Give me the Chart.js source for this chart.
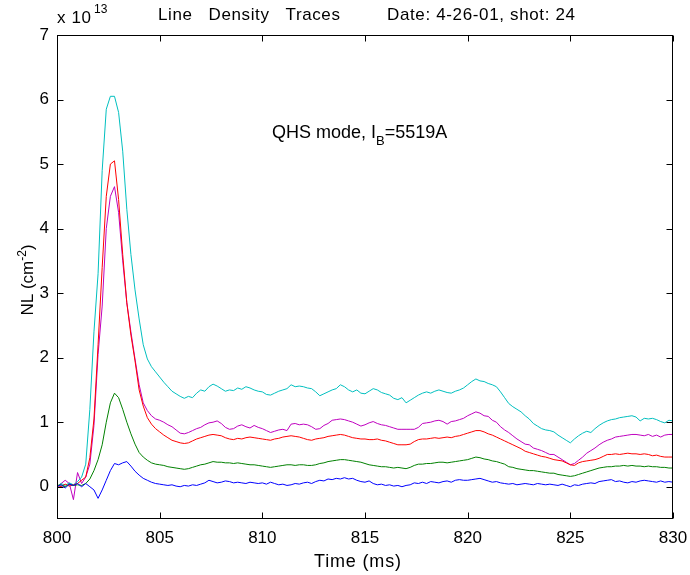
<!DOCTYPE html>
<html>
<head>
<meta charset="utf-8">
<script src="https://cdn.jsdelivr.net/npm/chart.js@4.4.1/dist/chart.umd.min.js"></script>
<style>
  html, body { margin: 0; padding: 0; background: #fff; }
  #wrap { width: 690px; height: 575px; }
</style>
</head>
<body>
<div id="wrap"><canvas id="chart" width="690" height="575"></canvas></div>
<script>
// sampling of the traces (ms)
const startTime = 800;
const sampleStep = 0.2;

// line density, units of 1e13 cm^-2, one row per ms
const blueTrace = [
  0.00, 0.03, -0.02, 0.04, 0.02,
  0.05, 0.00, 0.05, 0.00, -0.05,
  -0.18, -0.05, 0.10, 0.25, 0.36,
  0.34, 0.37, 0.39, 0.32, 0.24,
  0.18, 0.13, 0.10, 0.07, 0.05,
  0.04, 0.03, 0.02, 0.03, 0.01,
  0.00, 0.02, 0.01, 0.03, 0.02,
  0.04, 0.06, 0.10, 0.08, 0.06,
  0.07, 0.09, 0.08, 0.06, 0.07,
  0.06, 0.05, 0.07, 0.06, 0.05,
  0.06, 0.04, 0.07, 0.05, 0.03,
  0.04, 0.02, 0.03, 0.05, 0.04,
  0.06, 0.07, 0.05, 0.08, 0.10,
  0.09, 0.12, 0.11, 0.13, 0.12,
  0.14, 0.12, 0.13, 0.10, 0.08,
  0.07, 0.09, 0.05, 0.03, 0.04,
  0.02, 0.03, 0.01, 0.02, 0.00,
  0.02, 0.03, 0.06, 0.05, 0.07,
  0.05, 0.08, 0.07, 0.06, 0.08,
  0.09, 0.07, 0.10, 0.11, 0.10,
  0.10, 0.11, 0.12, 0.13, 0.11,
  0.09, 0.07, 0.08, 0.06, 0.05,
  0.04, 0.05, 0.03, 0.04, 0.05,
  0.04, 0.03, 0.05, 0.04, 0.03,
  0.04, 0.03, 0.02, 0.04, 0.02,
  0.00, 0.03, 0.02, 0.04, 0.05,
  0.06, 0.05, 0.08, 0.09, 0.10,
  0.11, 0.08, 0.09, 0.07, 0.06,
  0.08, 0.07, 0.09, 0.10, 0.09,
  0.08, 0.07, 0.09, 0.07, 0.08,
  0.07
];

const greenTrace = [
  0.02, 0.03, 0.00, 0.04, 0.02,
  0.03, 0.02, 0.05, 0.12, 0.25,
  0.42, 0.65, 1.00, 1.30, 1.45,
  1.38, 1.20, 1.00, 0.82, 0.66,
  0.53, 0.46, 0.41, 0.37, 0.35,
  0.34, 0.33, 0.31, 0.30, 0.29,
  0.28, 0.27, 0.28, 0.30, 0.32,
  0.34, 0.35, 0.37, 0.39, 0.38,
  0.38, 0.37, 0.37, 0.36, 0.37,
  0.36, 0.35, 0.34, 0.34, 0.33,
  0.32, 0.31, 0.30, 0.31, 0.32,
  0.33, 0.34, 0.34, 0.33, 0.34,
  0.34, 0.33, 0.33, 0.34, 0.36,
  0.37, 0.39, 0.40, 0.41, 0.42,
  0.42, 0.41, 0.40, 0.39, 0.38,
  0.36, 0.34, 0.33, 0.32, 0.31,
  0.31, 0.30, 0.29, 0.30, 0.29,
  0.28, 0.30, 0.33, 0.35, 0.35,
  0.36, 0.36, 0.37, 0.38, 0.38,
  0.37, 0.38, 0.39, 0.40, 0.41,
  0.42, 0.44, 0.46, 0.45, 0.43,
  0.42, 0.40, 0.39, 0.37, 0.35,
  0.31, 0.30, 0.28, 0.27, 0.26,
  0.25, 0.25, 0.24, 0.23, 0.22,
  0.21, 0.21, 0.19, 0.18, 0.17,
  0.16, 0.17, 0.19, 0.21, 0.23,
  0.25, 0.27, 0.29, 0.30, 0.31,
  0.31, 0.32, 0.32, 0.33, 0.32,
  0.33, 0.32, 0.32, 0.31, 0.32,
  0.31, 0.31, 0.30, 0.30, 0.29,
  0.29
];

const redTrace = [
  0.02, 0.00, 0.04, 0.01, 0.03,
  0.05, 0.10, 0.15, 0.45, 1.05,
  2.20, 3.40, 4.50, 5.00, 5.05,
  4.45, 3.60, 2.85, 2.35, 1.95,
  1.50, 1.25, 1.07, 0.97, 0.90,
  0.85, 0.80, 0.76, 0.72, 0.70,
  0.68, 0.67, 0.68, 0.71, 0.74,
  0.76, 0.78, 0.80, 0.81, 0.80,
  0.79, 0.76, 0.74, 0.73, 0.75,
  0.74, 0.76, 0.77, 0.76, 0.75,
  0.74, 0.73, 0.72, 0.74, 0.75,
  0.77, 0.78, 0.79, 0.78, 0.77,
  0.75, 0.73, 0.72, 0.74, 0.75,
  0.76, 0.78, 0.79, 0.80, 0.81,
  0.80, 0.78, 0.76, 0.75, 0.74,
  0.74, 0.73, 0.73, 0.74, 0.72,
  0.71, 0.69, 0.67, 0.65, 0.65,
  0.65, 0.66, 0.70, 0.73, 0.74,
  0.74, 0.75, 0.76, 0.75, 0.76,
  0.77, 0.76, 0.78, 0.79, 0.81,
  0.83, 0.85, 0.87, 0.87, 0.85,
  0.82, 0.80, 0.77, 0.74, 0.71,
  0.68, 0.65, 0.62, 0.59, 0.55,
  0.53, 0.51, 0.49, 0.47, 0.46,
  0.44, 0.42, 0.41, 0.40, 0.37,
  0.34, 0.33, 0.37, 0.39, 0.40,
  0.41, 0.42, 0.44, 0.47, 0.50,
  0.50, 0.51, 0.50, 0.51, 0.52,
  0.51, 0.51, 0.50, 0.51, 0.50,
  0.48, 0.49, 0.47, 0.46, 0.46,
  0.46
];

const cyanTrace = [
  0.00, 0.05, 0.02, 0.06, 0.03,
  0.08, 0.15, 0.35, 1.20, 2.40,
  3.30, 4.90, 5.85, 6.05, 6.05,
  5.80, 5.20, 4.30, 3.60, 3.05,
  2.60, 2.20, 1.98, 1.86, 1.78,
  1.70, 1.62, 1.55, 1.48, 1.44,
  1.40, 1.37, 1.40, 1.38, 1.45,
  1.50, 1.48, 1.55, 1.59, 1.56,
  1.52, 1.48, 1.50, 1.49, 1.53,
  1.51, 1.55, 1.53, 1.50, 1.48,
  1.47, 1.43, 1.42, 1.45, 1.48,
  1.50, 1.52, 1.58, 1.55, 1.56,
  1.55, 1.53, 1.52, 1.47, 1.41,
  1.44, 1.47, 1.50, 1.52, 1.58,
  1.55, 1.50, 1.47, 1.50, 1.45,
  1.44, 1.48, 1.52, 1.50, 1.46,
  1.44, 1.42, 1.37, 1.35, 1.38,
  1.30, 1.34, 1.38, 1.42, 1.45,
  1.47, 1.45, 1.48, 1.50, 1.48,
  1.46, 1.45, 1.48, 1.50, 1.53,
  1.58, 1.63, 1.67, 1.64, 1.63,
  1.60, 1.58, 1.55, 1.47, 1.38,
  1.29, 1.24, 1.20, 1.16, 1.10,
  1.05, 0.98, 0.94, 0.90, 0.88,
  0.87, 0.85, 0.80, 0.76, 0.72,
  0.68, 0.74, 0.79, 0.83, 0.86,
  0.84, 0.90, 0.95, 0.99, 1.02,
  1.04, 1.05, 1.07, 1.08, 1.09,
  1.10, 1.08, 1.02, 1.06, 1.05,
  1.06, 1.04, 1.01, 0.99, 1.03,
  1.02
];

const magentaTrace = [
  0.00, 0.05, 0.10, 0.05, -0.20,
  0.22, 0.05, 0.15, 0.35, 0.95,
  2.05, 2.80, 4.00, 4.50, 4.65,
  4.25, 3.50, 2.85, 2.40, 1.98,
  1.58, 1.30, 1.18, 1.10, 1.05,
  1.03, 1.00, 0.96, 0.93, 0.88,
  0.83, 0.82, 0.84, 0.87, 0.90,
  0.92, 0.96, 0.99, 1.00, 1.02,
  0.98, 0.92, 0.89, 0.90, 0.94,
  0.96, 0.93, 0.91, 0.95, 0.92,
  0.90, 0.87, 0.84, 0.86, 0.88,
  0.89, 0.87, 0.97, 0.98, 0.96,
  0.97, 0.96, 0.93, 0.89, 0.90,
  0.95, 0.98, 1.03, 1.04, 1.05,
  1.04, 1.02, 1.00, 0.97, 0.94,
  0.96, 0.99, 1.01, 0.98, 0.96,
  0.95, 0.93, 0.91, 0.89, 0.89,
  0.89, 0.89, 0.89, 0.92, 0.98,
  0.99, 1.00, 1.02, 1.03, 1.01,
  0.97, 1.01, 1.02, 1.04, 1.06,
  1.10, 1.13, 1.16, 1.14, 1.10,
  1.09, 1.03, 1.00, 0.93, 0.88,
  0.84, 0.79, 0.74, 0.70, 0.66,
  0.65, 0.60, 0.58, 0.56, 0.53,
  0.50, 0.50, 0.46, 0.42, 0.38,
  0.34, 0.36, 0.41, 0.46, 0.52,
  0.56, 0.60, 0.65, 0.69, 0.72,
  0.74, 0.77, 0.78, 0.79, 0.80,
  0.81, 0.81, 0.80, 0.79, 0.81,
  0.78, 0.80, 0.77, 0.80, 0.81,
  0.81
];

const xTickValues = [800, 805, 810, 815, 820, 825, 830];
const yTickValues = [0, 1, 2, 3, 4, 5, 6, 7];

const FONT = '"Liberation Sans", Arial, Helvetica, sans-serif';

function toPoints(values) {
  return values.map((v, i) => ({ x: +(startTime + i * sampleStep).toFixed(1), y: v }));
}

function trace(values, color) {
  return {
    data: toPoints(values),
    borderColor: color,
    borderWidth: 1,
    pointRadius: 0,
    tension: 0,
    fill: false
  };
}

// draw text spread to a given width (MATLAB text renders a bit wider)
function fitText(ctx, text, x, y, width) {
  ctx.letterSpacing = '0px';
  const w = ctx.measureText(text).width;
  const extra = (width - w) / Math.max(text.length - 1, 1);
  ctx.letterSpacing = extra.toFixed(2) + 'px';
  ctx.fillText(text, x, y);
  ctx.letterSpacing = '0px';
}

// frame, inward ticks and the MATLAB-style texts
const matlabFrame = {
  id: 'matlabFrame',
  afterDraw(chart) {
    const ctx = chart.ctx;
    const a = chart.chartArea;
    const xs = chart.scales.x, ys = chart.scales.y;
    const L = Math.round(a.left) + 0.5, R = Math.round(a.right) - 0.5;
    const T = Math.round(a.top) + 0.5, B = Math.round(a.bottom) - 0.5;
    const tick = 6;

    ctx.save();
    ctx.strokeStyle = '#000';
    ctx.lineWidth = 1;
    ctx.strokeRect(L, T, R - L, B - T);
    ctx.beginPath();
    xTickValues.forEach(v => {
      const px = Math.round(xs.getPixelForValue(v)) + 0.5;
      ctx.moveTo(px, B); ctx.lineTo(px, B - tick);
      ctx.moveTo(px, T); ctx.lineTo(px, T + tick);
    });
    yTickValues.forEach(v => {
      const py = Math.round(ys.getPixelForValue(v)) + 0.5;
      ctx.moveTo(L, py); ctx.lineTo(L + tick, py);
      ctx.moveTo(R, py); ctx.lineTo(R - tick, py);
    });
    ctx.stroke();

    ctx.fillStyle = '#000';
    ctx.textBaseline = 'alphabetic';
    ctx.textAlign = 'left';

    // title
    ctx.font = '17px ' + FONT;
    fitText(ctx, 'Line   Density   Traces', 158, 20, 182);
    fitText(ctx, 'Date: 4-26-01, shot: 24', 387, 20, 188);

    // exponent
    ctx.font = '17px ' + FONT;
    fitText(ctx, 'x 10', 57, 23, 34);
    ctx.font = '12px ' + FONT;
    ctx.fillText('13', 94, 13);

    // x label
    ctx.font = '18px ' + FONT;
    fitText(ctx, 'Time (ms)', 314, 567, 87);

    // y label (rotated)
    ctx.save();
    ctx.translate(33, 280);
    ctx.rotate(-Math.PI / 2);
    ctx.font = '17px ' + FONT;
    const main = 'NL (cm', sup = '-2', close = ')';
    const w1 = ctx.measureText(main).width;
    ctx.font = '12px ' + FONT;
    const w2 = ctx.measureText(sup).width;
    ctx.font = '17px ' + FONT;
    const w3 = ctx.measureText(close).width;
    const x0 = -(w1 + w2 + w3) / 2;
    ctx.fillText(main, x0, 0);
    ctx.font = '12px ' + FONT;
    ctx.fillText(sup, x0 + w1, -7);
    ctx.font = '17px ' + FONT;
    ctx.fillText(close, x0 + w1 + w2, 0);
    ctx.restore();

    // annotation
    ctx.font = '18px ' + FONT;
    const a1 = 'QHS mode, I';
    ctx.fillText(a1, 272, 138);
    const aw = ctx.measureText(a1).width;
    ctx.font = '13px ' + FONT;
    ctx.fillText('B', 272 + aw, 145);
    const bw = ctx.measureText('B').width;
    ctx.font = '18px ' + FONT;
    ctx.fillText('=5519A', 272 + aw + bw, 138);

    ctx.restore();
  }
};

new Chart(document.getElementById('chart'), {
  type: 'line',
  data: {
    datasets: [
      trace(blueTrace, 'rgb(0,0,255)'),
      trace(greenTrace, 'rgb(0,128,0)'),
      trace(redTrace, 'rgb(255,0,0)'),
      trace(cyanTrace, 'rgb(0,191,191)'),
      trace(magentaTrace, 'rgb(191,0,191)')
    ]
  },
  options: {
    responsive: false,
    animation: false,
    devicePixelRatio: 1,
    layout: { padding: { left: 0, right: 17, top: 35, bottom: 0 } },
    plugins: {
      legend: { display: false },
      tooltip: { enabled: false },
      title: { display: false }
    },
    scales: {
      x: {
        type: 'linear',
        min: 800,
        max: 830,
        grid: { display: false, drawTicks: false },
        border: { display: false },
        ticks: {
          stepSize: 5,
          color: '#000',
          font: { family: FONT, size: 17 },
          padding: 9,
          maxRotation: 0,
          autoSkip: false
        },
        afterBuildTicks: s => { s.ticks = xTickValues.map(v => ({ value: v })); },
        afterFit: s => { s.height = 56; s.paddingLeft = 0; s.paddingRight = 0; }
      },
      y: {
        type: 'linear',
        min: -0.5,
        max: 7,
        grid: { display: false, drawTicks: false },
        border: { display: false },
        ticks: {
          stepSize: 1,
          color: '#000',
          font: { family: FONT, size: 17 },
          padding: 8
        },
        afterBuildTicks: s => { s.ticks = yTickValues.map(v => ({ value: v })); },
        afterFit: s => { s.width = 57; s.paddingTop = 0; s.paddingBottom = 0; }
      }
    }
  },
  plugins: [matlabFrame]
});
</script>
</body>
</html>
